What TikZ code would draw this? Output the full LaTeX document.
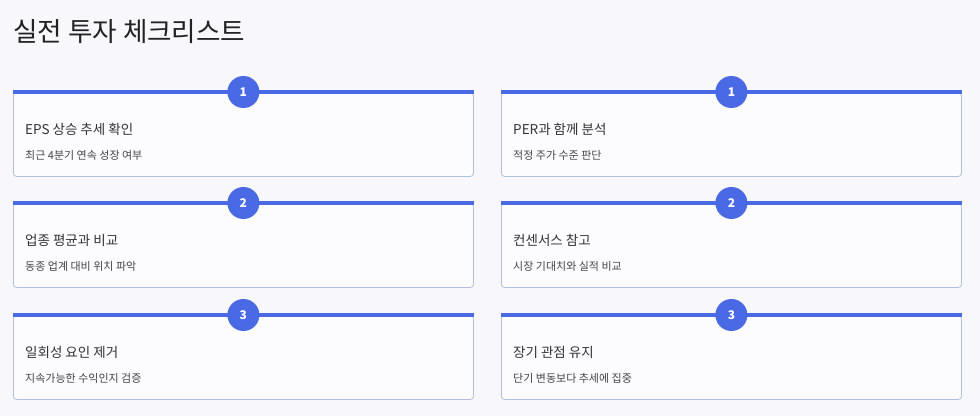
\documentclass[tikz,border=0pt]{standalone}
\usepackage{fontspec}
\setmainfont{Noto Sans CJK KR}
\usepackage{tikz}
\usetikzlibrary{positioning}

\definecolor{pagebg}{HTML}{F7F7FC}
\definecolor{cardfill}{HTML}{FCFCFF}
\definecolor{cardline}{HTML}{B3BDDC}
\definecolor{stepblue}{HTML}{4A69E4}
\definecolor{titletext}{HTML}{222222}
\definecolor{headtext}{HTML}{333333}
\definecolor{subtext}{HTML}{444444}

\begin{document}
\begin{tikzpicture}
		[x=1pt,y=-1pt,
		card/.style= {draw=cardline,fill=cardfill,rounded corners=3pt,line width=0.8pt,minimum width=460pt,minimum height=84pt,anchor=north west,inner sep=0pt},
		bar/.style= {draw=stepblue,line width=3.5pt},
		num/.style= {circle,fill=stepblue,text=white,minimum size=32pt,inner sep=0pt,font=\fontsize{12}{12}\selectfont\bfseries},
		head/.style= {anchor=base west,inner sep=0pt,text=headtext,font=\fontsize{13.5}{13.5}\selectfont},
		sub/.style= {anchor=base west,inner sep=0pt,text=subtext,font=\fontsize{11}{11}\selectfont}]

		\fill[pagebg] (0,0) rectangle (980,416);
		\useasboundingbox (0,0) rectangle (980,416);

		\node[anchor=base west,inner sep=0pt,text=titletext,font=\fontsize{26.6}{26.6}\selectfont] (title) at (13,41.5) {실전 투자 체크리스트};

		% row 1
		\node[card] (c1) at ( 13,92) {};
		\draw[bar] (c1.north west) -- (c1.north east);
		\node[num] (n1) at (c1.north) {1};
		\node[head] (h1) at ( 25,134.5) {EPS 상승 추세 확인};
		\node[sub] (s1) at ( 25,159) {최근 4분기 연속 성장 여부};

		\node[card] (c2) at (501,92) {};
		\draw[bar] (c2.north west) -- (c2.north east);
		\node[num] (n2) at (c2.north) {1};
		\node[head] (h2) at (513,134.5) {PER과 함께 분석};
		\node[sub] (s2) at (513,159) {적정 주가 수준 판단};

		% row 2
		\node[card] (c3) at ( 13,203) {};
		\draw[bar] (c3.north west) -- (c3.north east);
		\node[num] (n3) at (c3.north) {2};
		\node[head] (h3) at ( 25,245.5) {업종 평균과 비교};
		\node[sub] (s3) at ( 25,270) {동종 업계 대비 위치 파악};

		\node[card] (c4) at (501,203) {};
		\draw[bar] (c4.north west) -- (c4.north east);
		\node[num] (n4) at (c4.north) {2};
		\node[head] (h4) at (513,245.5) {컨센서스 참고};
		\node[sub] (s4) at (513,270) {시장 기대치와 실적 비교};

		% row 3
		\node[card] (c5) at ( 13,315) {};
		\draw[bar] (c5.north west) -- (c5.north east);
		\node[num] (n5) at (c5.north) {3};
		\node[head] (h5) at ( 25,357.5) {일회성 요인 제거};
		\node[sub] (s5) at ( 25,382) {지속가능한 수익인지 검증};

		\node[card] (c6) at (501,315) {};
		\draw[bar] (c6.north west) -- (c6.north east);
		\node[num] (n6) at (c6.north) {3};
		\node[head] (h6) at (513,357.5) {장기 관점 유지};
		\node[sub] (s6) at (513,382) {단기 변동보다 추세에 집중};

\end{tikzpicture}
\end{document}
